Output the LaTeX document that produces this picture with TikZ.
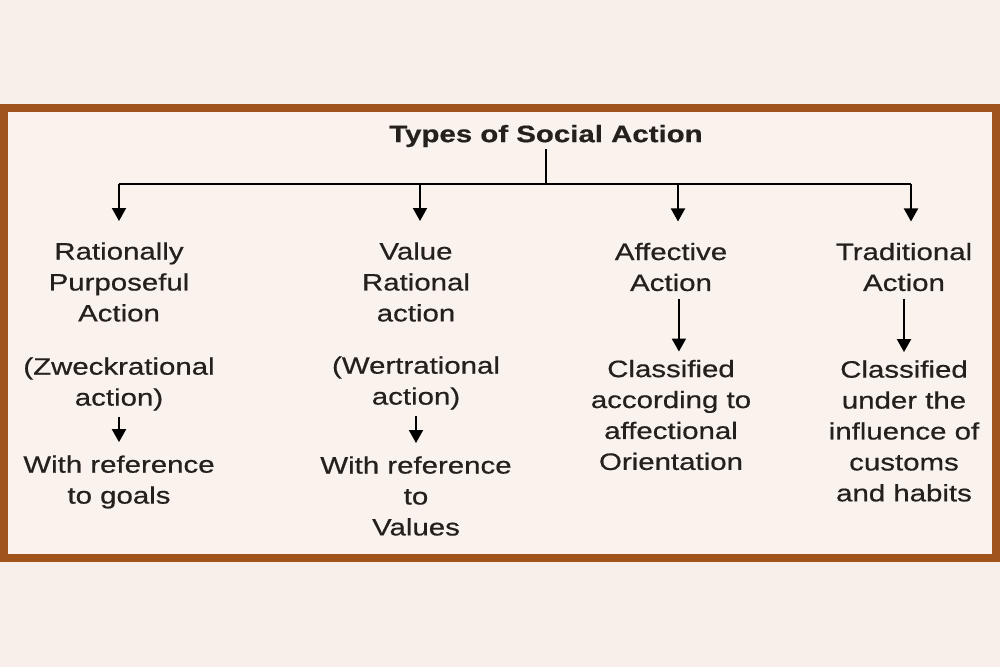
\documentclass[tikz,border=0pt]{standalone}
\usepackage{fontspec}
\setmainfont{Liberation Sans}[FakeStretch=1.24, FakeBold=0.6]
\usetikzlibrary{arrows.meta,positioning}
\definecolor{bgpink}{RGB}{249,239,234}
\definecolor{panel}{RGB}{250,242,237}
\definecolor{framebrown}{RGB}{160,84,28}
\definecolor{ink}{RGB}{38,32,28}

\begin{document}
\begin{tikzpicture}[x=0.2mm, y=-0.2mm, every node/.style={font=\fontsize{13.5}{17.6}\selectfont, text=ink}]
\tikzset{txt/.style={align=center, inner sep=0pt}}
\tikzset{arrow/.style={-{Triangle[length=2.6mm, width=2.8mm]}, line width=1.1pt}}
\useasboundingbox (0,0) rectangle (1000,667);
\fill[bgpink] (0,0) rectangle (1000,667);
\draw[framebrown, line width=1.6mm, fill=panel] (4,108) rectangle (996,558);

\node[txt, font=\fontsize{13.5}{17.6}\selectfont\bfseries] (title) at (546,136) {Types of Social Action};
% first row
\node[txt] (rational) at (119,282) {Rationally\\Purposeful\\Action};
\node[txt] (value) at (416,282) {Value\\Rational\\action};
\node[txt] (affective) at (671,267) {Affective\\Action};
\node[txt] (traditional) at (904,267) {Traditional\\Action};
% second row
\node[txt] (zweck) at (119,384) {(Zweckrational\\action)};
\node[txt] (wert) at (416,383) {(Wertrational\\action)};
\node[txt] (affclass) at (671,415) {Classified\\according to\\affectional\\Orientation};
\node[txt] (tradclass) at (904,431) {Classified\\under the\\influence of\\customs\\and habits};
% third row
\node[txt] (goals) at (119,482) {With reference\\to goals};
\node[txt] (values) at (416,496) {With reference\\to\\Values};

\coordinate (stem) at (546,184);
\coordinate (j1) at (119,184);
\coordinate (j2) at (420,184);
\coordinate (j3) at (678,184);
\coordinate (j4) at (911,184);
\draw[line width=1.1pt, shorten <=0.4mm] (title.south) -- (stem);
\draw[line width=1.1pt] (j1) -- (j4);
\draw[arrow, shorten >=4.2mm] (j1) -- (j1 |- rational.north);
\draw[arrow, shorten >=4.2mm] (j2) -- (j2 |- value.north);
\draw[arrow, shorten >=4.2mm] (j3) -- (j3 |- affective.north);
\draw[arrow, shorten >=4.2mm] (j4) -- (j4 |- traditional.north);

\draw[arrow, shorten <=1.2mm, shorten >=2.6mm] (zweck) -- (goals);
\draw[arrow, shorten <=1.2mm, shorten >=2.6mm] (wert) -- (values);
\draw[arrow, shorten <=1.4mm, shorten >=1.6mm] ([xshift=4.5pt]affective.south) -- ([xshift=4.5pt]affective.south |- affclass.north);
\draw[arrow, shorten <=1.4mm, shorten >=1.6mm] (traditional) -- (tradclass);
\end{tikzpicture}
\end{document}
